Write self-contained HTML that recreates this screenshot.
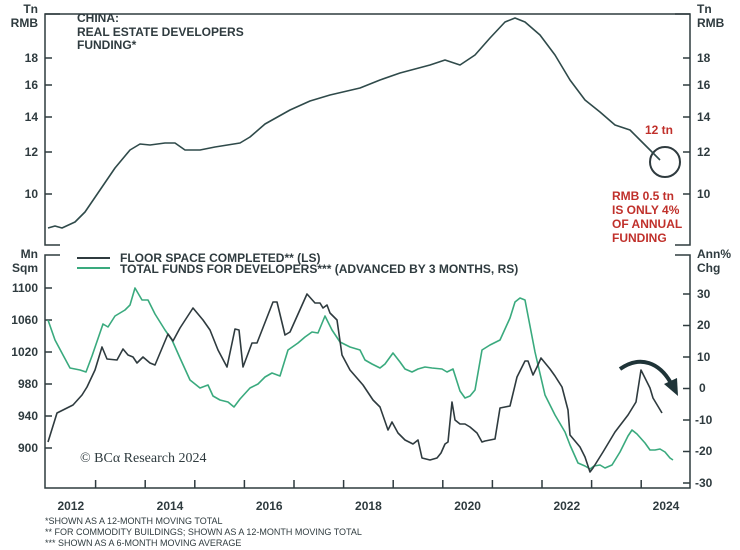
<!DOCTYPE html>
<html><head><style>body{margin:0;background:#fff}svg{display:block;font-family:"Liberation Sans",sans-serif}</style></head><body>
<svg width="740" height="550" viewBox="0 0 740 550">
<g stroke="#2f3b3f" stroke-width="1.5" fill="none">
<path d="M60,14 H45 V245 H60"/><path d="M675,14 H690 V245 H675"/>
<path d="M45,14 H690"/>
<path d="M60,255 H45 V488 H690 V255 H675"/>
<path d="M45,58h7M45,85h7M45,117h7M45,152h7M45,194h7M683,58h7M683,85h7M683,117h7M683,152h7M683,194h7"/>
<path d="M45,288h7M45,320h7M45,352h7M45,384h7M45,416h7M45,448h7"/>
<path d="M683,294h7M683,325.5h7M683,357h7M683,388.5h7M683,420h7M683,451.5h7M683,483h7"/>
<path d="M95.6,488v-8M145.2,488v-8M194.8,488v-8M244.4,488v-8M294,488v-8M343.6,488v-8M393.2,488v-8M442.8,488v-8M492.4,488v-8M542,488v-8M591.6,488v-8M641.2,488v-8"/>
</g>
<g font-size="12" font-weight="bold" fill="#2f3b3f">
<text x="38" y="13" text-anchor="end">Tn</text><text x="38" y="27" text-anchor="end">RMB</text>
<text x="697" y="13">Tn</text><text x="697" y="27">RMB</text>
<g text-anchor="end"><text x="38" y="62">18</text><text x="38" y="89">16</text><text x="38" y="121">14</text><text x="38" y="156">12</text><text x="38" y="198">10</text>
<text x="38" y="258">Mn</text><text x="38" y="272">Sqm</text>
<text x="38" y="292">1100</text><text x="38" y="324">1060</text><text x="38" y="356">1020</text><text x="38" y="388">980</text><text x="38" y="420">940</text><text x="38" y="452">900</text></g>
<text x="697" y="62">18</text><text x="697" y="89">16</text><text x="697" y="121">14</text><text x="697" y="156">12</text><text x="697" y="198">10</text>
<text x="697" y="258">Ann%</text><text x="697" y="272">Chg</text>
<text x="697" y="298">30</text><text x="697" y="329">20</text><text x="697" y="361">10</text><text x="699" y="392">0</text><text x="695" y="424">-10</text><text x="695" y="455">-20</text><text x="695" y="487">-30</text>
<g text-anchor="middle"><text x="70.8" y="510">2012</text><text x="170" y="510">2014</text><text x="269.2" y="510">2016</text><text x="368.4" y="510">2018</text><text x="467.6" y="510">2020</text><text x="566.8" y="510">2022</text><text x="666" y="510">2024</text></g>
<text x="77" y="22">CHINA:</text><text x="77" y="36">REAL ESTATE DEVELOPERS</text><text x="77" y="49">FUNDING*</text>
<text x="120" y="262">FLOOR SPACE COMPLETED** (LS)</text>
<text x="120" y="273">TOTAL FUNDS FOR DEVELOPERS*** (ADVANCED BY 3 MONTHS, RS)</text>
</g>
<g font-size="12" font-weight="bold" fill="#c0302b"><text x="645" y="134">12 tn</text>
<text x="612" y="200">RMB 0.5 tn</text><text x="612" y="214">IS ONLY 4%</text><text x="612" y="228">OF ANNUAL</text><text x="612" y="242">FUNDING</text></g>
<text x="80" y="462" font-family="Liberation Serif,serif" font-size="14" fill="#2f3b3f">© BCα Research 2024</text>
<g font-size="9" fill="#2f3b3f"><text x="45" y="524">*SHOWN AS A 12-MONTH MOVING TOTAL</text><text x="45" y="535">** FOR COMMODITY BUILDINGS; SHOWN AS A 12-MONTH MOVING TOTAL</text><text x="45" y="546">*** SHOWN AS A 6-MONTH MOVING AVERAGE</text></g>
<path d="M77,258H110" stroke="#2f3b3f" stroke-width="2"/><path d="M77,268H110" stroke="#3aaa7e" stroke-width="2"/>
<circle cx="665" cy="162" r="15" fill="none" stroke="#2f3b3f" stroke-width="2"/>
<path d="M620,369 C640,355 660,362 672,385" stroke="#1f3438" stroke-width="4" fill="none"/>
<path d="M664,384 L678,396 L677,378 Z" fill="#1f3438"/>
<g fill="none" stroke-width="1.6" stroke-linejoin="round">
<path stroke="#2f4a4a" d="M48,228 L55,226 L62,228 L75,222 L85,212 L100,190 L115,168 L130,150 L140,144 L150,145 L165,143 L175,143 L185,150 L200,150 L215,147 L240,143 L250,137 L265,124 L290,110 L310,101 L330,95 L360,88 L380,80 L400,73 L430,65 L445,60 L460,65 L475,55 L490,38 L505,22 L515,18 L525,22 L540,35 L555,55 L570,80 L585,100 L600,112 L615,125 L630,130 L640,140 L650,150 L660,160"/>
<path stroke="#3aaa7e" d="M48,320 L55,340 L63,355 L70,368 L80,370 L86,372 L92,356 L103,324 L108,327 L115,316 L120,313 L125,310 L130,305 L135,288 L142,300 L148,300 L155,314 L165,330 L172,340 L180,358 L190,380 L200,388 L208,385 L213,396 L220,400 L228,402 L234,407 L240,399 L250,388 L258,384 L265,377 L272,373 L280,376 L288,350 L298,343 L305,337 L312,332 L318,333 L325,316 L332,330 L340,342 L350,347 L360,350 L365,360 L372,364 L380,368 L385,364 L393,353 L400,362 L405,369 L412,372 L418,369 L425,367 L432,368 L442,369 L447,372 L453,369 L460,391 L465,398 L470,396 L475,390 L482,350 L490,345 L500,340 L510,318 L515,302 L520,298 L525,300 L535,352 L545,395 L555,415 L565,432 L570,445 L578,463 L585,466 L590,469 L594,466 L600,465 L605,468 L612,465 L620,452 L628,436 L632,430 L637,434 L645,443 L650,450 L655,450 L660,449 L665,452 L670,458 L673,460"/>
<path stroke="#2f3b3f" d="M48,442 L57,413 L67,408 L73,405 L82,395 L87,387 L95,370 L102,347 L107,359 L117,360 L123,349 L128,355 L133,357 L137,363 L143,357 L150,363 L155,365 L168,334 L173,341 L180,328 L193,308 L203,320 L210,330 L218,350 L227,367 L235,329 L239,330 L243,367 L252,343 L257,343 L273,302 L277,302 L285,335 L290,332 L307,294 L315,303 L320,303 L323,308 L327,305 L330,313 L337,320 L342,355 L350,370 L363,385 L373,400 L380,407 L388,430 L392,422 L398,433 L405,440 L413,444 L418,440 L422,458 L430,460 L437,458 L441,453 L445,444 L448,442 L452,402 L455,420 L460,424 L465,424 L470,427 L477,433 L482,442 L485,441 L495,439 L500,408 L510,406 L517,377 L525,361 L528,361 L533,375 L537,367 L541,358 L550,369 L555,376 L562,387 L568,410 L570,435 L575,441 L580,447 L585,457 L590,472 L593,468 L603,452 L615,432 L628,415 L636,402 L641,370 L650,388 L653,398 L662,413"/>
</g>
</svg>
</body></html>
